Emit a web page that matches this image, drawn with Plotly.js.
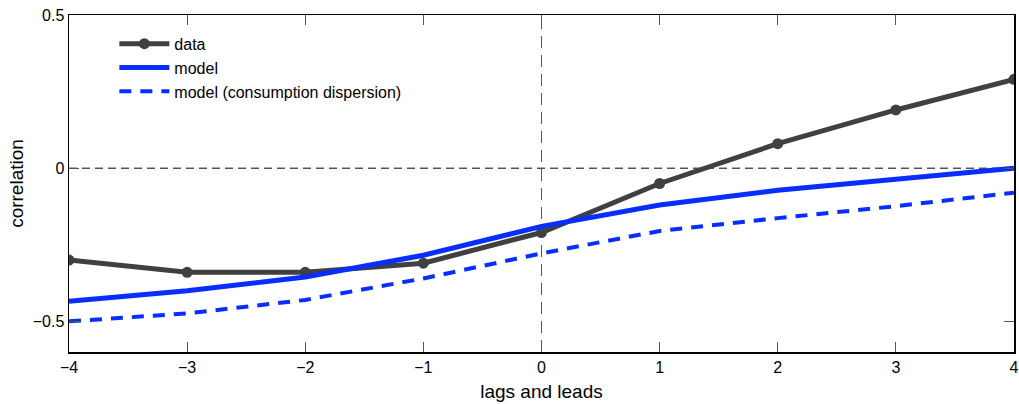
<!DOCTYPE html>
<html>
<head>
<meta charset="utf-8">
<script src="https://cdn.plot.ly/plotly-3.0.1.min.js"></script>
<style>html,body{margin:0;padding:0;background:#fff;}#chart{width:1019px;height:404px;}</style>
</head>
<body>
<div id="chart"></div>
<script>
const lags = [-4, -3, -2, -1, 0, 1, 2, 3, 4];
const dataCorr = [-0.30, -0.34, -0.34, -0.31, -0.21, -0.05, 0.08, 0.19, 0.29];
const modelCorr = [-0.434, -0.40, -0.355, -0.284, -0.19, -0.12, -0.072, -0.034, 0.0];
const modelDispCorr = [-0.50, -0.474, -0.43, -0.36, -0.278, -0.205, -0.163, -0.124, -0.08];
const xTicks = [-4, -3, -2, -1, 0, 1, 2, 3, 4];
const xTickLabels = ['\u22124', '\u22123', '\u22122', '\u22121', '0', '1', '2', '3', '4'];
const yTicks = [-0.5, 0, 0.5];
const yTickLabels = ['\u22120.5', '0', '0.5'];

const font = 'Liberation Sans, Arial, sans-serif';

const traces = [
  {x: lags, y: dataCorr, name: 'data', mode: 'lines+markers', legendgroup: 'a',
   line: {color: '#404040', width: 5}, marker: {color: '#404040', size: 11}},
  {x: lags, y: modelCorr, name: 'model', mode: 'lines', legendgroup: 'b',
   line: {color: '#0a2dff', width: 5}},
  {x: lags, y: modelDispCorr, name: 'model (consumption dispersion)', mode: 'lines', legendgroup: 'c',
   line: {color: '#0a2dff', width: 4, dash: '12px,9px'}}
];

const layout = {
  width: 1019, height: 404,
  margin: {l: 69, r: 5, t: 15, b: 52},
  paper_bgcolor: '#fff', plot_bgcolor: '#fff',
  font: {family: font, size: 16, color: '#000'},
  showlegend: true,
  legend: {x: 0.048, y: 0.965, xanchor: 'left', yanchor: 'top', bgcolor: 'rgba(0,0,0,0)',
           font: {family: font, size: 16, color: '#000'}, traceorder: 'grouped', tracegroupgap: 0,
           itemwidth: 50},
  xaxis: {range: [-4, 4], tickvals: xTicks, ticktext: xTickLabels, ticks: 'inside', ticklen: 10,
          tickcolor: '#555', showgrid: false, zeroline: false, showline: true, linecolor: '#000',
          linewidth: 1.5, mirror: 'ticks', fixedrange: true, ticklabeloverflow: 'allow',
          tickfont: {family: font, size: 16},
          title: {text: 'lags and leads', font: {family: font, size: 19}, standoff: 10}},
  yaxis: {range: [-0.6, 0.5], tickvals: yTicks, ticktext: yTickLabels, ticks: 'inside', ticklen: 10,
          tickcolor: '#555', showgrid: false, zeroline: false, showline: true, linecolor: '#000',
          linewidth: 1.5, mirror: 'ticks', fixedrange: true, ticklabeloverflow: 'allow',
          tickfont: {family: font, size: 16},
          title: {text: 'correlation', font: {family: font, size: 19}, standoff: 4}},
  shapes: [
    {type: 'line', xref: 'paper', x0: 0, x1: 1, yref: 'y', y0: 0, y1: 0,
     line: {color: '#000', width: 1, dash: '8px,5px'}, layer: 'below'},
    {type: 'line', xref: 'x', x0: 0, x1: 0, yref: 'paper', y0: 0, y1: 1,
     line: {color: '#555', width: 1, dash: '12px,7px'}, layer: 'below'}
  ]
};

Plotly.newPlot('chart', traces, layout, {displayModeBar: false, staticPlot: true});
</script>
</body>
</html>
